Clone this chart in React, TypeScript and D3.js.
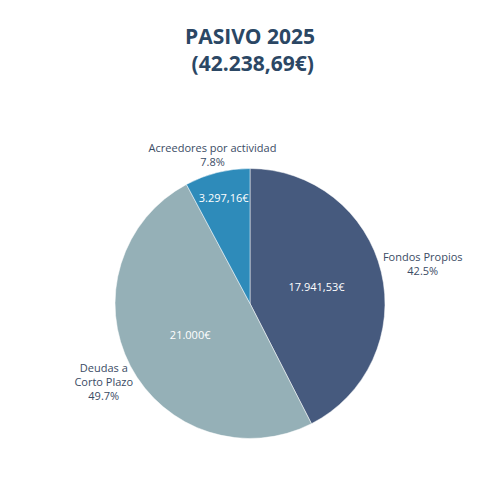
import React from "react";
import * as d3 from "d3";

const labels: string[] = ["Fondos Propios", "Deudas a\nCorto Plazo", "Acreedores por actividad"];
const values: number[] = [17941.53, 21000, 3297.16];
const valueTexts: string[] = ["17.941,53€", "21.000€", "3.297,16€"];
const colors: string[] = ["#465a7e", "#95b0b7", "#2e8bba"];
const titleLines: string[] = ["PASIVO 2025", "\u00a0(42.238,69€)"];

const W = 500;
const H = 500;
const FONT = "'Open Sans', sans-serif";

let ctx: CanvasRenderingContext2D | null = null;
function measure(text: string, size: number): number {
  if (!ctx) ctx = document.createElement("canvas").getContext("2d");
  if (!ctx) return text.length * size * 0.55;
  ctx.font = `${size}px 'Open Sans'`;
  return ctx.measureText(text).width;
}

export default function App() {
  const cx = 250;
  const cy = 303.5;
  const r = 135;
  const total = d3.sum(values);
  const pie = d3.pie<number>().sort(null).value((d) => d)(values);
  const arc = d3.arc<d3.PieArcDatum<number>>().innerRadius(0).outerRadius(r);
  const fmtPct = (v: number) => `${((v / total) * 100).toFixed(1)}%`;
  const lh = 14;

  return (
    <svg width={W} height={H} style={{ position: "absolute", left: 0, top: 0 }}>
      <rect width={W} height={H} fill="#ffffff" />
      <text x={250} textAnchor="middle" fontFamily={FONT} fontWeight="bold" fontSize={21} fill="#2b4764">
        {titleLines.map((t, i) => (
          <tspan key={i} x={250} y={44 + i * 26.5}>
            {t}
          </tspan>
        ))}
      </text>
      <g transform={`translate(${cx},${cy})`}>
        {pie.map((p, i) => (
          <path key={i} d={arc(p) || ""} fill={colors[i]} stroke="#ffffff" strokeWidth={0.5} />
        ))}
        {pie.map((p, i) => {
          const mid = (p.startAngle + p.endAngle) / 2;
          const half = (p.endAngle - p.startAngle) / 2;
          const rIns = Math.min(1 / (1 + 1 / Math.sin(Math.min(half, Math.PI / 2))), 0.5);
          const rc = (1 - rIns) * r;
          const x = rc * Math.sin(mid);
          const y = -rc * Math.cos(mid);
          return (
            <text key={"v" + i} x={x} y={y + 4} textAnchor="middle" fontFamily={FONT} fontSize={11} fill="#ffffff">
              {valueTexts[i]}
            </text>
          );
        })}
        {pie.map((p, i) => {
          const mid = (p.startAngle + p.endAngle) / 2;
          const s = Math.sin(mid);
          const c = Math.cos(mid);
          const lines = [...labels[i].split("\n"), fmtPct(values[i])];
          const w = d3.max(lines, (l) => measure(l, 11)) || 0;
          const h = lines.length * lh;
          const px = (r + 4) * s + (w / 2) * Math.sign(s) * s * s;
          const py = -(r + 4) * c + (h / 2) * Math.sign(-c) * Math.sqrt(Math.abs(c));
          return (
            <text key={"l" + i} textAnchor="middle" fontFamily={FONT} fontSize={11} fill="#3a4b64">
              {lines.map((l, j) => (
                <tspan key={j} x={px} y={py - h / 2 + j * lh + 7 + 4}>
                  {l}
                </tspan>
              ))}
            </text>
          );
        })}
      </g>
    </svg>
  );
}
